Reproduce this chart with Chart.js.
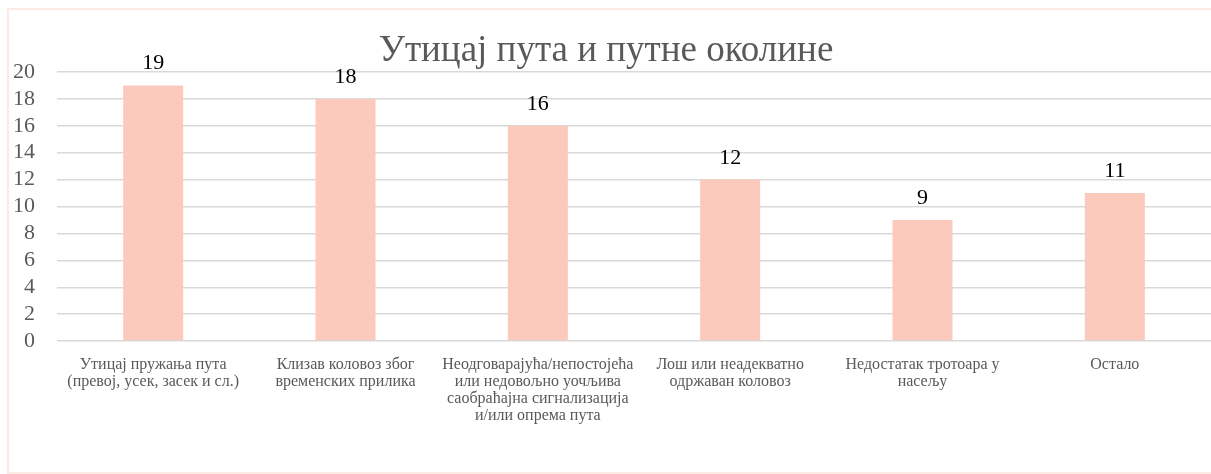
<!DOCTYPE html>
<html>
<head>
<meta charset="utf-8">
<script src="https://cdn.jsdelivr.net/npm/chart.js@4"></script>
<style>
    html, body { margin: 0; padding: 0; background: #fff; overflow: hidden; }
    #frame {
        position: absolute; left: 7px; top: 8px; width: 1230px; height: 466px;
        border: 2px solid #fcebe5; box-sizing: border-box;
    }
    #wrap { position: absolute; left: 0; top: 0; width: 1211px; height: 474px; }
</style>
</head>
<body>
<div id="frame"></div>
<div id="wrap"><canvas id="roadChart" width="1211" height="474"></canvas></div>
<script>
// Chart data
const categories = [
    ['Утицај пружања пута', '(превој, усек, засек и сл.)'],
    ['Клизав коловоз због', 'временских прилика'],
    ['Неодговарајућа/непостојећа', 'или недовољно уочљива', 'саобраћајна сигнализација', 'и/или опрема пута'],
    ['Лош или неадекватно', 'одржаван коловоз'],
    ['Недостатак тротоара у', 'насељу'],
    ['Остало']
];
const counts = [19, 18, 16, 12, 9, 11];
const yTicks = [0, 2, 4, 6, 8, 10, 12, 14, 16, 18, 20];
const chartTitle = 'Утицај пута и путне околине';

const serif = "'Liberation Serif', 'Times New Roman', serif";

// Value labels above each bar + the overlaid title
const overlayPlugin = {
    id: 'overlay',
    afterDatasetsDraw(chart) {
        const ctx = chart.ctx;
        const meta = chart.getDatasetMeta(0);
        ctx.save();
        ctx.font = '22px ' + serif;
        ctx.fillStyle = '#000';
        ctx.textAlign = 'center';
        ctx.textBaseline = 'alphabetic';
        meta.data.forEach((bar, i) => {
            ctx.fillText(String(counts[i]), bar.x, bar.y - 16);
        });
        ctx.font = '37px ' + serif;
        ctx.fillStyle = '#595959';
        ctx.fillText(chartTitle, 606, 61);
        ctx.restore();
    }
};

new Chart(document.getElementById('roadChart'), {
    type: 'bar',
    data: {
        labels: categories,
        datasets: [{
            data: counts,
            backgroundColor: '#fbcabd',
            borderWidth: 0,
            barPercentage: 1,
            categoryPercentage: 0.312
        }]
    },
    options: {
        responsive: false,
        animation: false,
        layout: { padding: { top: 72, left: 0, right: 0, bottom: 0 } },
        plugins: {
            legend: { display: false },
            tooltip: { enabled: false }
        },
        scales: {
            x: {
                grid: { display: false },
                border: { display: false },
                ticks: {
                    autoSkip: false,
                    maxRotation: 0,
                    padding: 7,
                    color: '#595959',
                    font: { family: serif, size: 16, lineHeight: 1.06 }
                },
                afterFit(scale) { scale.height = 133; }
            },
            y: {
                min: 0,
                max: 20,
                afterBuildTicks(scale) { scale.ticks = yTicks.map(v => ({ value: v })); },
                grid: { color: '#d9d9d9', lineWidth: 1.4, drawTicks: false },
                border: { display: false },
                ticks: {
                    autoSkip: false,
                    padding: 22,
                    color: '#595959',
                    font: { family: serif, size: 22 }
                },
                afterFit(scale) { scale.width = 57; }
            }
        }
    },
    plugins: [overlayPlugin]
});
</script>
</body>
</html>
